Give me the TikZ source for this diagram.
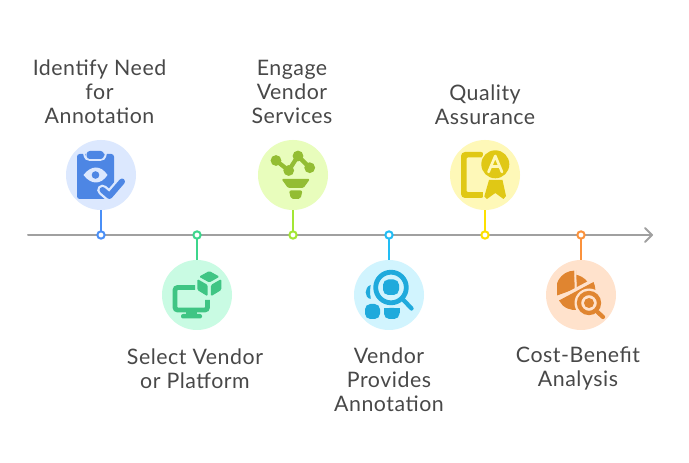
\documentclass[tikz,border=0pt]{standalone}
\usepackage{fontspec}
\setmainfont[LetterSpace=2.5]{Lato}
\begin{document}
\begin{tikzpicture}[x=0.75pt,y=-0.75pt,
  badge/.style={circle,draw=none,minimum size=52.5pt,inner sep=0pt},
  dot/.style={circle,fill=white,line width=1.5pt,minimum size=5.5pt,inner sep=0pt},
  stem/.style={line width=1.5pt},
  lbl/.style={text=txt,align=center,font=\fontsize{16}{18}\selectfont,inner sep=0pt},
  axisline/.style={draw=axisc,line width=1.5pt,line cap=round,line join=round}]
\definecolor{txt}{HTML}{484848}
\definecolor{axisc}{HTML}{A0A0A0}
\definecolor{l1}{HTML}{4A8FF7}\definecolor{b1}{HTML}{DCE8FE}\definecolor{i1}{HTML}{4D86E4}
\definecolor{l2}{HTML}{3DD68C}\definecolor{b2}{HTML}{C9FBE3}\definecolor{i2}{HTML}{3FC584}
\definecolor{l3}{HTML}{A3E635}\definecolor{b3}{HTML}{E8FDBC}\definecolor{i3}{HTML}{93BD33}
\definecolor{l4}{HTML}{22BDF5}\definecolor{b4}{HTML}{D1F4FE}\definecolor{i4}{HTML}{1FAADC}
\definecolor{l5}{HTML}{FDE000}\definecolor{b5}{HTML}{FEF8B8}\definecolor{i5}{HTML}{E0C815}
\definecolor{l6}{HTML}{FB923C}\definecolor{b6}{HTML}{FFE2CC}\definecolor{i6}{HTML}{E08530}
\useasboundingbox (0,0) rectangle (689,463);
\fill[white] (0,0) rectangle (689,463);
% axis
\coordinate (axisstart) at (28,235);
\coordinate (axisend) at (652,235);
\draw[axisline] (axisstart) -- (axisend);
\draw[axisline] (645,228) -- (axisend) -- (645,242);
% badges
\node[badge,fill=b1] (c1) at (101,175) {};
\node[badge,fill=b2] (c2) at (197,295) {};
\node[badge,fill=b3] (c3) at (293,175) {};
\node[badge,fill=b4] (c4) at (389,295) {};
\node[badge,fill=b5] (c5) at (485,175) {};
\node[badge,fill=b6] (c6) at (581,295) {};
% stems run from badge to marker, markers are drawn on top
\coordinate (p1) at (101,235);
\coordinate (p2) at (197,235);
\coordinate (p3) at (293,235);
\coordinate (p4) at (389,235);
\coordinate (p5) at (485,235);
\coordinate (p6) at (581,235);
\draw[stem,draw=l1] (c1) -- (p1);
\draw[stem,draw=l2] (c2) -- (p2);
\draw[stem,draw=l3] (c3) -- (p3);
\draw[stem,draw=l4] (c4) -- (p4);
\draw[stem,draw=l5] (c5) -- (p5);
\draw[stem,draw=l6] (c6) -- (p6);
\node[dot,draw=l1] (d1) at (p1) {};
\node[dot,draw=l2] (d2) at (p2) {};
\node[dot,draw=l3] (d3) at (p3) {};
\node[dot,draw=l4] (d4) at (p4) {};
\node[dot,draw=l5] (d5) at (p5) {};
\node[dot,draw=l6] (d6) at (p6) {};
% labels
\node[lbl] (t1) at (99.5,92) {Identify Need\\for\\Annotation};
\node[lbl] (t2) at (195,368.5) {Select Vendor\\or Platform};
\node[lbl] (t3) at (292,92) {Engage\\Vendor\\Services};
\node[lbl] (t4) at (389,380) {Vendor\\Provides\\Annotation};
\node[lbl] (t5) at (485,104.5) {Quality\\Assurance};
\node[lbl] (t6) at (578,368.5) {Cost-Benefit\\Analysis};
% icon 1: clipboard
\begin{scope}[shift={(101,175)}]
\fill[i1,rounded corners=2pt] (-24,-21) rectangle (13,24);
\fill[b1] (-15,-24) rectangle (3,-14.5);
\draw[b1,line width=1.5pt] (-17,-22) .. controls (-16,-16) and (-14,-15) .. (-11,-15) -- (-1,-15) .. controls (2,-15) and (4,-16) .. (5,-22);
\fill[i1,rounded corners=2.5pt] (-14.5,-24) rectangle (3,-16);
\fill[b1] (-17.5,0) .. controls (-10,-10) and (0,-10) .. (6.5,0) .. controls (0,10) and (-10,10) .. (-17.5,0) -- cycle;
\fill[i1] (-5.5,0) circle (3.8);
\draw[b1,line width=8pt,line cap=round,line join=round] (1.5,15) -- (8.5,21) -- (21,6.5);
\draw[i1,line width=4.5pt,line cap=round,line join=round] (1.5,15) -- (8.5,21) -- (21,6.5);
\end{scope}
% icon 2: monitor and cube
\begin{scope}[shift={(197,295)}]
\draw[i2,line width=3.6pt,rounded corners=2pt] (-2,-7.5) -- (-22,-7.5) -- (-22,15) -- (10.5,15) -- (10.5,5);
\fill[i2] (-11,16) rectangle (0,20);
\fill[i2,rounded corners=1.5pt] (-16,19) rectangle (5,23.5);
\fill[i2,rounded corners=1pt] (12.3,-24) -- (22.5,-18.3) -- (12.3,-12.5) -- (2,-18.3) -- cycle;
\fill[i2,rounded corners=1pt] (0.3,-16) -- (10.7,-10) -- (10.7,1.3) -- (0.3,-5) -- cycle;
\fill[i2,rounded corners=1pt] (24.3,-16) -- (13.9,-10) -- (13.9,1.3) -- (24.3,-5) -- cycle;
\end{scope}
% icon 3: chart and funnel
\begin{scope}[shift={(293,175)}]
\draw[i3,line width=3.2pt,line join=round] (-17,-14.5) -- (-4.3,-4.5) -- (5,-19) -- (16.7,-7.3);
\fill[i3] (-17,-14.5) circle (5.4) (-4.3,-4.5) circle (5.4) (5,-19) circle (5.4) (16.7,-7.3) circle (5.4);
\fill[i3,rounded corners=1pt] (-11.5,4) -- (17,4) -- (10.5,13) -- (-5,13) -- cycle;
\fill[i3,rounded corners=1.5pt] (-4,15.5) -- (9.5,15.5) -- (7.5,24) -- (-2,24) -- cycle;
\end{scope}
% icon 4: shapes and magnifier
\begin{scope}[shift={(389,295)}]
\draw[i4,line width=3.6pt] (2,-7.5) circle (15.3);
\draw[i4,line width=3.2pt,line cap=round] (14.5,5) -- (22.5,13.5);
\fill[i4,rounded corners=4pt] (-6,-15.5) rectangle (10,0);
\fill[i4] (-18.3,-10) .. controls (-25,-8) and (-25,3) .. (-18.3,4) .. controls (-18,3) and (-18.5,2) .. (-18.8,0) .. controls (-19,-3) and (-19,-6) .. (-18.3,-10) -- cycle;
\fill[i4,rounded corners=4pt] (-24,9) rectangle (-9,24);
\fill[i4,rounded corners=4pt] (-5,13) rectangle (10.5,24);
\fill[i4] (-5,13.5) rectangle (10.5,18);
\end{scope}
% icon 5: tablet and seal
\begin{scope}[shift={(485,175)}]
\fill[i5,rounded corners=3pt] (-24,-23) rectangle (0,23);
\fill[b5,rounded corners=1pt] (-18.5,-17.5) rectangle (3,17);
\fill[b5] (-2,-24) rectangle (3,24);
\fill[i5] (4,5) -- (17.5,5) -- (21,21) -- (18.5,24) -- (10.3,18) -- (2,24) -- (-0.7,21.5) -- cycle;
\fill[b5] (10.3,-10.7) circle (15.2);
\fill[i5] (10.3,-10.7) circle (14);
\draw[b5,line width=2pt,line join=round,line cap=round] (3.5,-3) -- (10.3,-19) -- (17,-3) (5.8,-8.5) -- (14.8,-8.5);
\end{scope}
% icon 6: pie and magnifier
\begin{scope}[shift={(581,295)}]
\begin{scope}
\clip (-24,-25) rectangle (16,21);
\fill[i6] (-6,-6) -- (-6.4,-24.4) arc (-90:-200:18.5 and 18.5) -- cycle;
\fill[i6] (-5,-24.5) -- (-4.5,-6.5) -- (7,-12.5) arc (-35:-85:19 and 19) -- cycle;
\fill[i6] (-22,5.5) -- (12.5,-13) arc (-25:130:19.8) -- cycle;
\end{scope}
\draw[b6,line width=2pt] (-23.5,4) -- (13,-15.5);
\draw[b6,line width=1.5pt] (-5.7,-26) -- (-5.4,-5.5);
\fill[b6] (8,8) circle (14.5);
\draw[i6,line width=3.2pt] (8,8) circle (10);
\fill[i6] (8,8) circle (5);
\draw[i6,line width=3.2pt,line cap=round] (16.5,17) -- (22,22);
\end{scope}
\end{tikzpicture}
\end{document}
